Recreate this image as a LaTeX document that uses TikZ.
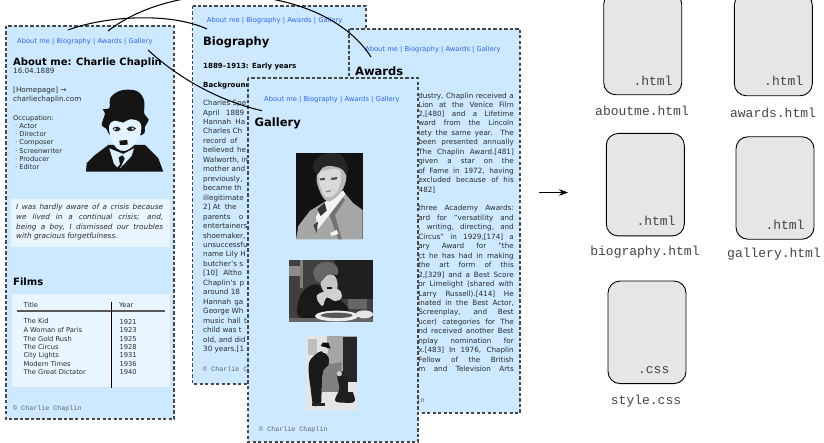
\documentclass[tikz,border=0pt]{standalone}
\usepackage{fontspec}
\setmainfont{DejaVu Sans}
\newfontfamily\monofam{Liberation Mono}
\usetikzlibrary{arrows.meta}
\definecolor{pagebg}{HTML}{CCE9FF}
\definecolor{panelbg}{HTML}{EAF6FF}
\definecolor{pageline}{HTML}{484848}
\definecolor{navblue}{HTML}{3366FF}
\definecolor{bodyink}{HTML}{2A2A2A}
\definecolor{fileface}{HTML}{E6E6E6}
\definecolor{filetext}{HTML}{444444}
\tikzset{
 pagebox/.style={fill=pagebg,draw=pageline,line width=1.15pt,dash pattern=on 3.2pt off 2.3pt},
 txt/.style={inner sep=0pt,anchor=base west,yshift=-2.6pt,text=bodyink},
 navlink/.style={txt,text=navblue,font=\fontsize{6.75}{8}\selectfont},
 headbig/.style={txt,text=black,font=\bfseries\fontsize{11.5}{13}\selectfont,yshift=-3.8pt},
 headsmall/.style={txt,text=black,font=\bfseries\fontsize{10}{12}\selectfont,yshift=-3.4pt},
 headsub/.style={txt,text=black,font=\bfseries\fontsize{7.05}{9}\selectfont},
 bodytxt/.style={txt,font=\fontsize{7.2}{9}\selectfont},
 smalltxt/.style={txt,font=\fontsize{6.7}{8}\selectfont},
 quotetxt/.style={txt,font=\itshape\fontsize{7.3}{9}\selectfont},
 foot/.style={txt,text=black!60,font=\monofam\fontsize{6.7}{8}\selectfont},
 fileicon/.style={draw=black,line width=0.9pt,fill=fileface,rounded corners=12pt,minimum width=78pt,minimum height=102.5pt,inner sep=0pt},
 filelabel/.style={inner sep=0pt,text=filetext,font=\monofam\fontsize{13}{15}\selectfont},
 linkcurve/.style={draw=black,line width=1.05pt},
 photo/.style={x=0.3333pt,y=-0.3333pt},
}
\newcommand{\navtext}{About me | Biography | Awards | Gallery}
\begin{document}
\begin{tikzpicture}[x=1pt,y=-1pt]
\path[use as bounding box] (0,0) rectangle (824,443);

% ---------- page A : About me
\path[pagebox] (6,26) rectangle (174,419);
\node[navlink] (navA) at (17,40.5) {\navtext};
\node[headsmall] (headA) at (13,60) {About me: Charlie Chaplin};
\node[bodytxt] (dateA) at (13,71) {16.04.1889};
\node[bodytxt] (homeA) at (13,90) {[Homepage] →};
\node[bodytxt] (urlA) at (13,99) {charliechaplin.com};
\node[smalltxt] (occA) at (13,117.5) {Occupation:};
\foreach \t [count=\i] in {· Actor,· Director,· Composer,· Screenwriter,· Producer,· Editor}
  \node[smalltxt] (occ\i) at (15,{117.5+8.3*\i}) {\t};
% portrait
\begin{scope}[shift={(80,80)},photo]
 \fill[black!92] (18,275) -- (20,250) -- (45,225) -- (85,195) -- (195,195) -- (235,235) -- (250,275) -- cycle;
 \fill[black!92] plot[smooth cycle,tension=.6] coordinates {(65,135)(75,100)(68,88)(88,84)(92,52)(125,31)(170,33)(192,60)(193,102)(206,118)(195,140)(185,165)(100,170)(78,145)};
 \fill[pagebg!55!white] plot[smooth cycle,tension=.7] coordinates {(88,135)(105,122)(130,128)(150,118)(180,128)(182,160)(170,185)(148,207)(122,212)(100,192)(90,165)};
 \fill[pagebg!70!white] (88,205) -- (102,252) -- (112,262) -- (130,240) -- (120,265) -- (155,228) -- (162,205) -- (130,222) -- cycle;
 \fill[black!92] (116,232) -- (128,226) -- (134,236) -- (122,262) -- cycle;
 \fill[black!85] (98,145) .. controls (108,136) and (118,140) .. (122,148) .. controls (112,158) and (102,156) .. (98,145) -- cycle;
 \fill[black!85] (140,146) .. controls (150,136) and (162,138) .. (168,146) .. controls (158,156) and (146,156) .. (140,146) -- cycle;
 \fill[pagebg!50!white] (105,147) circle (3.5);
 \fill[pagebg!50!white] (158,146) circle (3.5);
 \fill[black!92] (118,182) -- (142,180) -- (143,194) -- (120,195) -- cycle;
\end{scope}
% quote
\path[fill=panelbg] (11,199) rectangle (170,247);
\node[quotetxt] (qa) at (16,207) {\makebox[147pt][s]{I was hardly aware of a crisis because}};
\node[quotetxt] (qb) at (16,217) {\makebox[147pt][s]{we lived in a continual crisis; and,}};
\node[quotetxt] (qc) at (16,226.5) {\makebox[147pt][s]{being a boy, I dismissed our troubles}};
\node[quotetxt] (qd) at (16,236) {with gracious forgetfulness.};
\node[headsmall] (films) at (13,279.5) {Films};
% table
\path[fill=panelbg] (12,294) rectangle (170,387);
\node[smalltxt] (thT) at (23.5,305) {Title};
\node[smalltxt] (thY) at (119,304.5) {Year};
\coordinate (rl) at (17,311); \coordinate (rr) at (165,311);
\coordinate (vt) at (111,302); \coordinate (vb) at (111,388);
\draw[draw=black!65,line width=1.2pt] (rl) -- (rr);
\draw[draw=black,line width=0.9pt] (vt) -- (vb);
\foreach \t/\yy/\yr/\yz [count=\i] in {The Kid/321/1921/321.7,A Woman of Paris/329.7/1923/330.3,The Gold Rush/338.7/1925/339,The Circus/346.7/1928/346.7,City Lights/355/1931/355.3,Modern Times/363.7/1936/363.7,The Great Dictator/372/1940/372.3}{
  \node[smalltxt] (ft\i) at (23.3,\yy) {\t};
  \node[smalltxt] (fy\i) at (119.3,\yz) {\yr};
}
\node[foot] (footA) at (13,408) {© Charlie Chaplin};

% ---------- page B : Biography
\path[pagebox] (192.5,6) rectangle (366,384);
\node[navlink] (navB) at (206.7,19.5) {\navtext};
\node[headbig] (headB) at (203,39) {Biography};
\node[headsub] (subB) at (203,65.5) {1889–1913: Early years};
\node[headsub] (bgB) at (203,84.5) {Background};
\foreach \t [count=\i] in {{Charles Spe},{April\hspace{4pt} 1889},{Hannah\hspace{2pt} Ha},{Charles Ch},{record\hspace{2pt} of},{believed\hspace{1pt} he},{Walworth, in},{mother and},{previously,},{became th},{illegitimate},{2] At\hspace{2pt} the},{parents\hspace{6pt} o},{entertainers},{shoemaker,},{unsuccessfu},{name Lily H},{butcher's s},{[10]\hspace{3pt} Altho},{Chaplin's\hspace{1pt} p},{around 18},{Hannah\hspace{1pt} ga},{George Wh},{music\hspace{1pt} hall\hspace{1pt} t},{child was t},{old, and did},{30 years.[1}}
  \node[bodytxt] (bb\i) at (203,{103+9.46*(\i-1)}) {\t};
\node[foot] (footB) at (203,369) {© Charlie Chaplin};

% ---------- page C : Awards
\path[pagebox] (349,29) rectangle (520,413);
\node[navlink] (navC) at (365,48.5) {\navtext};
\node[headbig] (headC) at (355,69) {Awards};
\foreach \t/\yy [count=\i] in {{dustry, Chaplin received a}/95.7,{Lion at the Venice Film}/104.5,{2,[480] and a Lifetime}/114,{ward from the Lincoln}/123.3,{iety the same year. The}/133.3,{been presented annually}/142.3,{The Chaplin Award.[481]}/152,{given a star on the}/161.3,{of Fame in 1972, having}/171.3,{excluded because of his}/180.3,{three Academy Awards:}/208.3,{ard for "versatility and}/218,{, writing, directing, and}/227.3,{Circus" in 1929,[174] a}/237,{ary Award for "the}/246.3,{ct he has had in making}/256,{the art form of this}/265.3,{2,[329] and a Best Score}/275,{or Limelight (shared with}/284.3,{Larry Russell).[414] He}/293.7,{inated in the Best Actor,}/303,{Screenplay, and Best}/312.3,{ucer) categories for The}/322,{nd received another Best}/331.3,{nplay nomination for}/341,{x.[483] In 1976, Chaplin}/350.3,{Fellow of the British}/360,{m and Television Arts}/369.3}
  \node[bodytxt,anchor=base east] (aw\i) at (514,\yy) {\makebox[95.5pt][s]{\t}};
\node[bodytxt] (aw482) at (418.5,190) {482]};
\node[foot] (footC) at (356,400) {© Charlie Chaplin};

% ---------- page D : Gallery
\path[pagebox] (248,78) rectangle (418,442);
\node[navlink] (navD) at (264,98.5) {\navtext};
\node[headbig] (headD) at (254.5,120) {Gallery};
% photo 1
\begin{scope}[shift={(290,150)},photo]
 \fill[black!93] (18,8) rectangle (218,268);
 \fill[black!35] (18,268) -- (25,228) -- (60,182) -- (105,155) -- (158,122) -- (190,160) -- (218,180) -- (218,268) -- cycle;
 \fill[black!55] (150,135) -- (118,195) -- (145,268) -- (155,268) -- (135,195) -- (165,150) -- cycle;
 \fill[black!5] (100,160) -- (160,122) -- (166,132) -- (118,195) -- (82,240) -- (78,200) -- cycle;
 \fill[black!80] (82,178) -- (104,158) -- (110,182) -- (92,198) -- cycle;
 \fill[black!75] (70,225) -- (84,215) -- (80,250) -- cycle;
 \fill[black!28] plot[smooth cycle,tension=.7] coordinates {(80,80)(100,52)(145,48)(168,70)(160,115)(130,148)(108,152)(88,120)};
 \fill[black!15] plot[smooth cycle,tension=.7] coordinates {(86,75)(110,60)(150,62)(148,110)(125,140)(100,132)};
 \fill[black!70] (88,86) -- (104,83) -- (105,90) -- (92,91) -- cycle;
 \fill[black!70] (122,84) -- (142,81) -- (140,88) -- (125,90) -- cycle;
 \fill[black!45] (107,123) -- (123,120) -- (121,125) -- (109,127) -- cycle;
 \fill[black!85] plot[smooth cycle,tension=.7] coordinates {(70,45)(95,15)(145,12)(170,40)(170,75)(152,55)(105,48)(82,72)};
 \fill[black!5] (120,250) -- (140,240) -- (145,252) -- (125,258) -- cycle;
\end{scope}
% photo 2
\begin{scope}[shift={(285,256)},photo]
 \fill[black!75] (12,12) rectangle (265,198);
 \fill[black!88] (150,12) rectangle (265,130);
 \fill[black!45] (12,30) rectangle (45,60);
 \fill[black!50] (45,12) rectangle (55,95);
 \fill[black!60] (190,130) rectangle (245,160);
 \fill[black!90] plot[smooth cycle,tension=.6] coordinates {(40,180)(45,120)(85,85)(130,100)(170,135)(190,165)(130,170)(90,185)};
 \fill[black!22] plot[smooth cycle,tension=.7] coordinates {(108,75)(135,55)(155,70)(155,105)(135,118)(115,105)};
 \fill[black!60] plot[smooth cycle,tension=.7] coordinates {(85,45)(110,20)(150,25)(158,55)(130,55)(110,75)(95,75)};
 \fill[black!90] (125,92) rectangle (142,100);
 \fill[black!18] plot[smooth cycle,tension=.7] coordinates {(95,120)(125,105)(160,100)(170,125)(150,135)(125,125)(112,150)};
 \fill[black!60] (12,185) rectangle (265,198);
 \fill[black!8] (155,180) ellipse (65 and 16);
 \fill[black!65] (155,178) ellipse (48 and 8);
 \fill[black!10] (238,175) ellipse (26 and 12);
\end{scope}
% photo 3
\begin{scope}[shift={(300,332)},photo]
 \fill[black!10] (17,12) rectangle (172,235);
 \fill[black!35] (80,12) rectangle (172,150);
 \fill[black!25] (25,20) rectangle (50,70);
 \fill[black!85] (130,15) rectangle (170,150);
 \fill[black!50] (70,100) -- (125,90) -- (120,180) -- (65,180) -- cycle;
 \fill[black!90] plot[smooth cycle,tension=.5] coordinates {(30,85)(62,58)(85,75)(85,100)(70,115)(65,170)(62,215)(40,220)(32,170)(26,120)};
 \fill[black!95] (62,42) -- (68,32) -- (85,32) -- (92,50) -- cycle;
 \fill[black!15] (68,50) rectangle (84,62);
 \fill[black!85] (35,212) rectangle (75,222);
 \fill[black!88] plot[smooth cycle,tension=.6] coordinates {(112,130)(130,118)(140,140)(165,205)(130,212)(105,205)(118,170)};
 \fill[black!20] (118,125) circle (8);
 \fill[black!10] (145,150) rectangle (172,180);
\end{scope}
\node[foot] (footD) at (259,429) {© Charlie Chaplin};

% ---------- connectors
\coordinate (p1s) at (68,30); \coordinate (p1e) at (207,29);
\coordinate (p2s) at (108,31); \coordinate (p2e) at (371,57);
\coordinate (p3s) at (148,50); \coordinate (p3e) at (262,110.7);
\draw[linkcurve] (p1s) .. controls (105,16) and (170,12) .. (p1e);
\draw[linkcurve] (p2s) .. controls (180,-25) and (325,-15) .. (p2e);
\draw[linkcurve] (p3s) .. controls (175,75) and (215,100) .. (p3e);

\coordinate (ars) at (539,192.5); \coordinate (are) at (568,192.5);
\draw[line width=0.7pt,-{Stealth[length=9pt,width=6.5pt]}] (ars) -- (are);

% ---------- file icons
\node[fileicon] (fabout) at (642.7,43.5) {};
\node[fileicon] (fawards) at (773.3,44.5) {};
\node[fileicon] (fbio) at (645.3,184.7) {};
\node[fileicon] (fgal) at (775,188) {};
\node[fileicon] (fstyle) at (647,332.3) {};
\node[filelabel] (eabout) at (653,81.3) {.html};
\node[filelabel] (eawards) at (783.7,81.3) {.html};
\node[filelabel] (ebio) at (656,221) {.html};
\node[filelabel] (egal) at (785,225) {.html};
\node[filelabel] (estyle) at (653.7,369.7) {.css};
\node[filelabel] (labout) at (642,111) {aboutme.html};
\node[filelabel] (lawards) at (773,112.7) {awards.html};
\node[filelabel] (lbio) at (645,252) {biography.html};
\node[filelabel] (lgal) at (774,254) {gallery.html};
\node[filelabel] (lstyle) at (646,400.7) {style.css};
\end{tikzpicture}
\end{document}
